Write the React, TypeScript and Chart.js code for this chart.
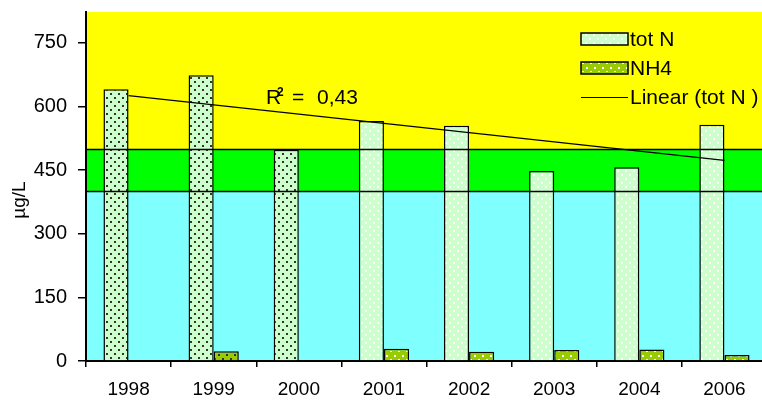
import React, { useEffect, useRef } from "react";
import { Chart, registerables } from "chart.js";

Chart.register(...registerables);

// ---- data ----
const years = ["1998", "1999", "2000", "2001", "2002", "2003", "2004", "2006"];
const totN = [641, 674, 498, 566, 555, 448, 457, 557];
const nh4: (number | null)[] = [null, 23, null, 29, 22, 26, 27, 14];
const yTickValues = [0, 150, 300, 450, 600, 750];
const bandLimits = [400, 500];
const yMax = 823;
const r2Label = "0,43";
const seriesNames = ["tot N", "NH4", "Linear (tot N )"];
const yTitle = "µg/L";

// ---- style ----
const FONT = "'Liberation Sans', Arial, sans-serif";
const TOTN_BG = "#CCFFCC";
const NH4_BG = "#99CC00";
const DARK_DOT_BARS = 3; // first bars drawn with dark dot hatch

function makePattern(bg: string, dot: string, size: number, pts: number[][], d: number) {
  const c = document.createElement("canvas");
  c.width = size;
  c.height = size;
  const g = c.getContext("2d")!;
  g.fillStyle = bg;
  g.fillRect(0, 0, size, size);
  g.fillStyle = dot;
  for (const [x, y] of pts) g.fillRect(x, y, d, d);
  return g.createPattern(c, "repeat")!;
}

function regression(vals: number[]) {
  const n = vals.length;
  const mx = (n - 1) / 2;
  const my = vals.reduce((a, b) => a + b, 0) / n;
  let sxy = 0, sxx = 0;
  vals.forEach((v, i) => {
    sxy += (i - mx) * (v - my);
    sxx += (i - mx) * (i - mx);
  });
  const b = sxy / sxx;
  return vals.map((_, i) => my + b * (i - mx));
}

export default function App() {
  const ref = useRef<HTMLCanvasElement | null>(null);

  useEffect(() => {
    const canvas = ref.current!;
    const darkTot = makePattern(TOTN_BG, "#333", 8, [[2, 1], [6, 5]], 2);
    const whiteTot = makePattern(TOTN_BG, "#FFFFFF", 8, [[1, 2], [5, 6]], 2);
    const darkNh4 = makePattern(NH4_BG, "#333", 8, [[2, 2], [6, 6]], 2);
    const whiteNh4 = makePattern(NH4_BG, "#FFFFFF", 8, [[2, 3], [6, 7]], 2);

    const totBg = totN.map((_, i) => (i < DARK_DOT_BARS ? darkTot : whiteTot));
    const nh4Bg = nh4.map((_, i) => (i === 1 ? darkNh4 : whiteNh4));
    const trend = regression(totN);

    const bands = {
      id: "bands",
      beforeDraw(chart: any) {
        const { ctx, chartArea: a, scales } = chart;
        const y = scales.y;
        const yLo = y.getPixelForValue(bandLimits[0]);
        const yHi = y.getPixelForValue(bandLimits[1]);
        const w = a.right - a.left;
        ctx.save();
        ctx.fillStyle = "#FFFF00";
        ctx.fillRect(a.left, a.top, w, yHi - a.top);
        ctx.fillStyle = "#00FF00";
        ctx.fillRect(a.left, yHi, w, yLo - yHi);
        ctx.fillStyle = "#80FFFF";
        ctx.fillRect(a.left, yLo, w, a.bottom - yLo);
        ctx.restore();
      },
      afterDatasetsDraw(chart: any) {
        const { ctx, chartArea: a, scales } = chart;
        const y = scales.y;
        ctx.save();
        ctx.strokeStyle = "#000";
        ctx.lineWidth = 1.5;
        for (const v of bandLimits) {
          const py = Math.round(y.getPixelForValue(v)) + 0.5;
          ctx.beginPath();
          ctx.moveTo(a.left, py);
          ctx.lineTo(a.right, py);
          ctx.stroke();
        }
        ctx.restore();
      },
      afterDraw(chart: any) {
        const { ctx } = chart;
        ctx.save();
        ctx.fillStyle = "#000";
        // y title
        ctx.save();
        ctx.translate(20, 200);
        ctx.rotate(-Math.PI / 2);
        ctx.font = `19px ${FONT}`;
        ctx.textAlign = "center";
        ctx.textBaseline = "middle";
        ctx.fillText(yTitle, 0, 0);
        ctx.restore();

        // R² label
        ctx.textBaseline = "alphabetic";
        ctx.textAlign = "left";
        ctx.font = `21px ${FONT}`;
        ctx.fillText("R", 266, 104);
        ctx.font = `bold 12px ${FONT}`;
        ctx.fillText("2", 277, 96);
        ctx.font = `21px ${FONT}`;
        ctx.fillText("=", 292, 104);
        ctx.fillText(r2Label, 317, 104);

        // legend
        const sx = 581, sw = 47, sh = 12, tx = 630;
        const rows = [39, 68, 97];
        ctx.font = `21px ${FONT}`;
        ctx.textBaseline = "middle";
        ctx.lineWidth = 1.5;
        ctx.strokeStyle = "#000";
        ctx.fillStyle = whiteTot;
        ctx.fillRect(sx, rows[0] - sh / 2, sw, sh);
        ctx.strokeRect(sx, rows[0] - sh / 2, sw, sh);
        ctx.fillStyle = whiteNh4;
        ctx.fillRect(sx, rows[1] - sh / 2, sw, sh);
        ctx.strokeRect(sx, rows[1] - sh / 2, sw, sh);
        ctx.beginPath();
        ctx.lineWidth = 1.2;
        ctx.moveTo(sx, rows[2] + 0.5);
        ctx.lineTo(sx + sw, rows[2] + 0.5);
        ctx.stroke();
        ctx.fillStyle = "#000";
        seriesNames.forEach((s, i) => ctx.fillText(s, tx, rows[i] + 1));
        ctx.restore();
      },
    };

    const chart = new Chart(canvas, {
      type: "bar",
      data: {
        labels: years,
        datasets: [
          {
            type: "line",
            label: seriesNames[2],
            data: trend,
            borderColor: "#000",
            borderWidth: 1.2,
            pointRadius: 0,
            fill: false,
            order: 0,
          } as any,
          {
            label: seriesNames[0],
            data: totN,
            backgroundColor: totBg as any,
            borderColor: "#000",
            borderWidth: 1.5,
            categoryPercentage: 0.59,
            barPercentage: 1,
            order: 1,
          },
          {
            label: seriesNames[1],
            data: nh4 as any,
            backgroundColor: nh4Bg as any,
            borderColor: "#000",
            borderWidth: 1.5,
            categoryPercentage: 0.59,
            barPercentage: 1,
            order: 1,
          },
        ],
      },
      options: {
        animation: false,
        responsive: false,
        devicePixelRatio: 1,
        layout: { padding: { top: 12, left: 0, right: 0, bottom: 0 } },
        plugins: { legend: { display: false }, tooltip: { enabled: false } },
        scales: {
          x: {
            grid: {
              offset: true,
              drawOnChartArea: false,
              drawTicks: true,
              tickLength: 6,
              color: "#000",
              lineWidth: 1.5,
            },
            border: { color: "#000", width: 2 },
            ticks: {
              color: "#000",
              font: { family: FONT, size: 19 },
              padding: 11,
              maxRotation: 0,
              autoSkip: false,
            },
            afterFit(scale: any) {
              scale.height = 42;
              scale.paddingLeft = 0;
              scale.paddingRight = 0;
            },
          },
          y: {
            min: 0,
            max: yMax,
            grid: {
              drawOnChartArea: false,
              drawTicks: true,
              tickLength: 8,
              color: "#000",
              lineWidth: 1.5,
            },
            border: { color: "#000", width: 2 },
            ticks: {
              stepSize: 150,
              color: "#000",
              font: { family: FONT, size: 20 },
              padding: 11,
            },
            afterBuildTicks(scale: any) {
              scale.ticks = yTickValues.map((v) => ({ value: v }));
            },
            afterFit(scale: any) {
              scale.width = 86;
              scale.paddingTop = 0;
              scale.paddingBottom = 0;
            },
          },
        },
      },
      plugins: [bands],
    });
    return () => chart.destroy();
  }, []);

  return (
    <div style={{ position: "fixed", left: 0, top: 0, width: 762, height: 403, overflow: "hidden", background: "#fff" }}>
      <canvas ref={ref} width={767} height={403} style={{ display: "block", width: 767, height: 403 }} />
    </div>
  );
}
